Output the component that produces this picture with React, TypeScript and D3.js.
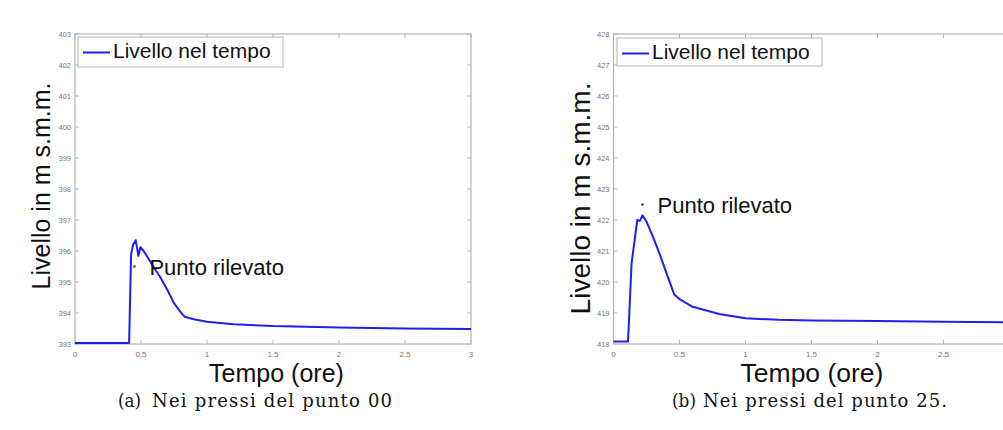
import React from "react";
import * as d3 from "d3";

// Panel (a): level near point 00
const timeA = [0, 0.41, 0.425, 0.44, 0.46, 0.48, 0.495, 0.52, 0.55, 0.6, 0.644, 0.7, 0.75, 0.8, 0.83, 0.9, 1.0, 1.2, 1.5, 2.0, 2.5, 3.0];
const levelA = [393.03, 393.03, 395.9, 396.2, 396.35, 395.85, 396.12, 396.0, 395.8, 395.45, 395.17, 394.74, 394.32, 394.03, 393.88, 393.8, 393.72, 393.64, 393.58, 393.53, 393.5, 393.48];
const pointA = { t: 0.45, v: 395.5 };
const yTicksA = [393, 394, 395, 396, 397, 398, 399, 400, 401, 402, 403];

// Panel (b): level near point 25
const timeB = [0, 0.11, 0.137, 0.18, 0.2, 0.22, 0.25, 0.3, 0.35, 0.4, 0.46, 0.5, 0.6, 0.8, 1.0, 1.25, 1.5, 2.0, 2.5, 3.0];
const levelB = [418.08, 418.08, 420.6, 422.0, 421.97, 422.15, 421.95, 421.45, 420.9, 420.3, 419.6, 419.45, 419.2, 418.97, 418.83, 418.78, 418.76, 418.74, 418.72, 418.7];
const pointB = { t: 0.22, v: 422.5 };
const yTicksB = [418, 419, 420, 421, 422, 423, 424, 425, 426, 427, 428];

const xTicks = [0, 0.5, 1, 1.5, 2, 2.5, 3];
const legendLabel = "Livello nel tempo";
const pointLabel = "Punto rilevato";
const yLabel = "Livello in m s.m.m.";
const xLabel = "Tempo (ore)";
const captionTags = ["(a)", "(b)"];
const captionTexts = ["Nei pressi del punto 00", "Nei pressi del punto 25."];

const W = 1003;
const SANS = "'Liberation Sans', Arial, sans-serif";
const SERIF = "'DejaVu Serif', 'Liberation Serif', serif";
const LINE = "#1f1fee";
const FRAME = "#b4b4b4";

type PanelProps = {
  x0: number; x1: number; y0: number; y1: number;
  time: number[]; level: number[]; yDomain: [number, number]; yTicks: number[];
  point: { t: number; v: number };
  pointTextDx: number; pointTextDy: number;
  yLabelX: number; yLabelY: number; yLabelSize: number;
  xLabelX: number; xLabelSize: number;
  legend: { x: number; y: number; w: number; h: number };
};

function Panel(p: PanelProps) {
  const x = d3.scaleLinear().domain([0, 3]).range([p.x0, p.x1]);
  const y = d3.scaleLinear().domain(p.yDomain).range([p.y1, p.y0]);
  const data = p.time.map((t, i) => [t, p.level[i]] as [number, number]);
  const line = d3.line<[number, number]>().x(d => x(d[0])).y(d => y(d[1]));
  const fmt = (v: number) => String(v);
  const tl = 4;
  return (
    <g>
      <rect x={p.x0} y={p.y0} width={p.x1 - p.x0} height={p.y1 - p.y0} fill="none" stroke={FRAME} strokeWidth={1.2} />
      {xTicks.map(t => (
        <g key={"xt" + t}>
          <line x1={x(t)} x2={x(t)} y1={p.y1} y2={p.y1 - tl} stroke={FRAME} />
          <line x1={x(t)} x2={x(t)} y1={p.y0} y2={p.y0 + tl} stroke={FRAME} />
          {x(t) < W - 4 && (
            <text x={x(t)} y={p.y1 + 13} fontSize={8} fill="#777" textAnchor="middle" fontFamily={SANS}>{fmt(t)}</text>
          )}
        </g>
      ))}
      {p.yTicks.map(v => (
        <g key={"yt" + v}>
          <line x1={p.x0} x2={p.x0 + tl} y1={y(v)} y2={y(v)} stroke={FRAME} />
          <line x1={p.x1} x2={p.x1 - tl} y1={y(v)} y2={y(v)} stroke={FRAME} />
          <text x={p.x0 - 4} y={y(v) + 3} fontSize={7.5} fill="#777" textAnchor="end" fontFamily={SANS}>{fmt(v)}</text>
        </g>
      ))}
      <path d={line(data) || ""} fill="none" stroke={LINE} strokeWidth={2} strokeLinejoin="round" />
      <circle cx={x(p.point.t)} cy={y(p.point.v)} r={1.3} fill="#444" />
      <text x={x(p.point.t) + p.pointTextDx} y={y(p.point.v) + p.pointTextDy} fontSize={22} fill="#111" fontFamily={SANS}>{pointLabel}</text>
      <rect x={p.legend.x} y={p.legend.y} width={p.legend.w} height={p.legend.h} fill="#fff" stroke={FRAME} strokeWidth={1} />
      <line x1={p.legend.x + 5} x2={p.legend.x + 32} y1={p.legend.y + 15.5} y2={p.legend.y + 15.5} stroke={LINE} strokeWidth={2} />
      <text x={p.legend.x + 35} y={p.legend.y + 21} fontSize={21} fill="#111" fontFamily={SANS}>{legendLabel}</text>
      <text transform={`translate(${p.yLabelX},${p.yLabelY}) rotate(-90)`} fontSize={p.yLabelSize} fill="#111" textAnchor="middle" fontFamily={SANS}>{yLabel}</text>
      <text x={p.xLabelX} y={381.5} fontSize={p.xLabelSize} fill="#111" textAnchor="middle" fontFamily={SANS}>{xLabel}</text>
    </g>
  );
}

export default function App() {
  return (
    <svg width={W} height={430} style={{ position: "absolute", left: 0, top: 0, background: "#fff" }}>
      <rect width={W} height={430} fill="#fff" />
      <Panel x0={75} x1={471} y0={34} y1={344} time={timeA} level={levelA} yDomain={[393, 403]} yTicks={yTicksA}
        point={pointA} pointTextDx={15} pointTextDy={8}
        yLabelX={50} yLabelY={186} yLabelSize={25} xLabelX={276.5} xLabelSize={25}
        legend={{ x: 78, y: 37, w: 205, h: 30 }} />
      <Panel x0={613.5} x1={1009.5} y0={34} y1={344} time={timeB} level={levelB} yDomain={[418, 428]} yTicks={yTicksB}
        point={pointB} pointTextDx={15} pointTextDy={8}
        yLabelX={590} yLabelY={198.5} yLabelSize={28} xLabelX={812} xLabelSize={26.5}
        legend={{ x: 617, y: 38, w: 205, h: 28 }} />
      <text x={118} y={407} fontSize={18} fontFamily={SERIF} fill="#111" textLength={23} lengthAdjust="spacingAndGlyphs">{captionTags[0]}</text>
      <text x={152} y={407} fontSize={18} fontFamily={SERIF} fill="#111" textLength={240} lengthAdjust="spacing">{captionTexts[0]}</text>
      <text x={672} y={407} fontSize={18} fontFamily={SERIF} fill="#111" textLength={24} lengthAdjust="spacingAndGlyphs">{captionTags[1]}</text>
      <text x={703} y={407} fontSize={18} fontFamily={SERIF} fill="#111" textLength={244} lengthAdjust="spacing">{captionTexts[1]}</text>
    </svg>
  );
}
